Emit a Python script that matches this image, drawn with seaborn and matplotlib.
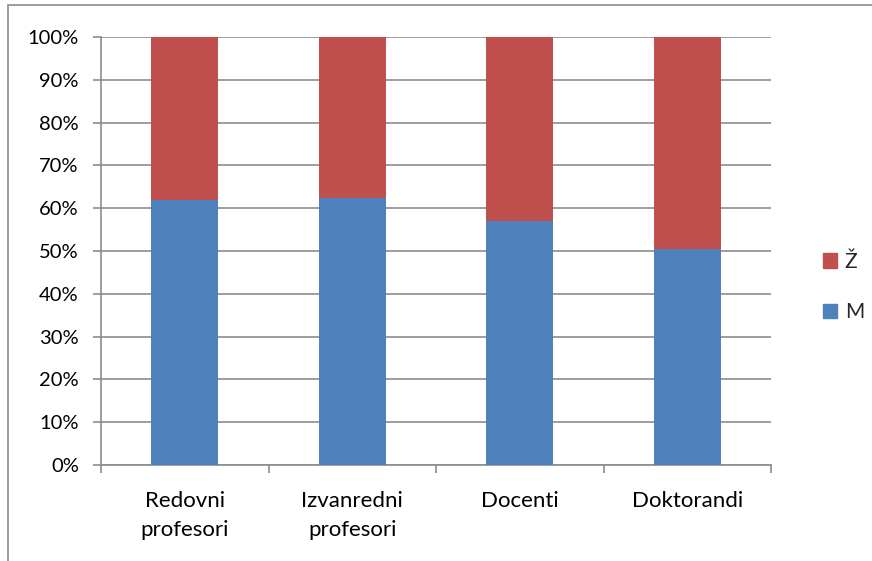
import matplotlib
matplotlib.use("Agg")
import matplotlib.pyplot as plt
from matplotlib.patches import Rectangle
import seaborn as sns
import pandas as pd
import numpy as np

categories = ["Redovni\nprofesori", "Izvanredni\nprofesori", "Docenti", "Doktorandi"]
share_m = [61.8, 62.5, 57.0, 50.5]
share_z = [100 - v for v in share_m]
ytick_labels = [f"{v}%" for v in range(0, 101, 10)]

blue = "#4F81BD"
red = "#C0504D"
grid_grey = "#8C8C8C"

sns.set_theme(style="white")
plt.rcParams["font.family"] = ["Lato", "DejaVu Sans"]

df = pd.DataFrame({"kategorija": categories, "M": share_m, "Ž": share_z})
df["total"] = df["M"] + df["Ž"]

fig = plt.figure(figsize=(8.72, 5.61), dpi=100)
ax = fig.add_axes([101 / 872, 1 - 465 / 561, (771 - 101) / 872, (465 - 37) / 561])

# stacked 100% bars: full height in red, male share in blue over it
sns.barplot(data=df, x="kategorija", y="total", color=red, width=0.4,
            ax=ax, saturation=1, zorder=3, linewidth=0)
sns.barplot(data=df, x="kategorija", y="M", color=blue, width=0.4,
            ax=ax, saturation=1, zorder=3, linewidth=0)

ax.set_ylim(0, 100)
ax.set_xlim(-0.5, len(categories) - 0.5)
ax.set_yticks(range(0, 101, 10))
ax.set_yticklabels(ytick_labels, fontsize=14.5)
ax.set_xticks(range(len(categories)))
ax.set_xticklabels(categories, fontsize=16, linespacing=1.55)
ax.set_xlabel("")
ax.set_ylabel("")

ax.yaxis.grid(True, color=grid_grey, linewidth=1.2, zorder=0)
ax.set_axisbelow(True)
for side in ["top", "right"]:
    ax.spines[side].set_visible(False)
for side in ["left", "bottom"]:
    ax.spines[side].set_color(grid_grey)
    ax.spines[side].set_linewidth(1.2)

ax.tick_params(axis="y", which="major", left=True, length=6, width=1.2,
               color=grid_grey, pad=10, labelcolor="black")
ax.tick_params(axis="x", which="major", bottom=False, pad=13, labelcolor="black")
# boundary ticks between categories on the x axis
ax.set_xticks(np.arange(-0.5, len(categories), 1.0), minor=True)
ax.tick_params(axis="x", which="minor", bottom=True, length=6, width=1.2,
               color=grid_grey)

# legend on the right
handles = [Rectangle((0, 0), 1, 1, color=red), Rectangle((0, 0), 1, 1, color=blue)]
fig.legend(handles, ["Ž", "M"], loc="center left",
           bbox_to_anchor=(804 / 872, 1 - 287 / 561), frameon=False,
           fontsize=15, handlelength=0.7, handleheight=0.7,
           handletextpad=0.35, labelspacing=1.45)

# frame around the chart, running off the right and bottom edges
fig.patches.append(Rectangle((8 / 872, -10 / 561), 900 / 872, 566 / 561,
                             transform=fig.transFigure, fill=False,
                             edgecolor="#8C8C8C", linewidth=1.2))

fig.savefig("out.png", dpi=100, facecolor="white")
